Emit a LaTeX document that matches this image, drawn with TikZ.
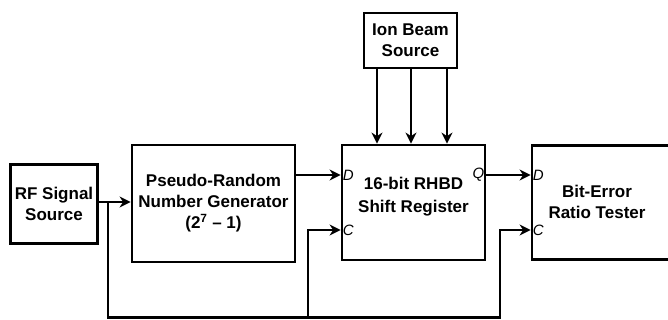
\documentclass[tikz,border=0pt]{standalone}
\usepackage{fontspec}
\setmainfont{Liberation Sans}
\usetikzlibrary{arrows.meta, positioning, calc}
\tikzset{
  font=\bfseries\fontsize{17}{21}\selectfont,
  >={Stealth[length=11pt, width=11pt, inset=3.5pt]},
  %
  blk/.style={draw=black, line width=2.8pt, align=center, inner sep=0pt,
              text=black},
  wire/.style={draw=black, line width=2.6pt},
  sig/.style={wire, ->},
  pin/.style={font=\itshape\mdseries\fontsize{15}{17}\selectfont, inner sep=2pt},
}
\begin{document}
\begin{tikzpicture}[x=1pt, y=1pt]
  \clip (0,0) rectangle (668,320);

  % --- blocks --------------------------------------------------------------
  \node[blk, minimum width=87pt,  minimum height=79pt]  (rf)   at (54,116)    {RF Signal\\Source};
  \node[blk, minimum width=163pt, minimum height=117pt] (prng) at (213.5,116.5) {Pseudo-Random\\Number Generator\\(2$^{\mathbf{7}}$ -- 1)};
  \node[blk, minimum width=143pt, minimum height=115pt] (sr)   at (413.5,117.5) {};
  \node[font=\bfseries\fontsize{17}{23}\selectfont, align=center] (srlbl) at (413.5,123) {16-bit RHBD\\Shift Register};
  \node[blk, minimum width=93pt,  minimum height=55pt]  (ion)  at (410.5,279.5) {Ion Beam\\Source};
  \node[blk, minimum width=160pt, minimum height=114pt] (bert) at (612,117.5)  {};
  \node[align=center] (bertlbl) at (597,118) {Bit-Error\\Ratio Tester};

  % --- pins ----------------------------------------------------------------
  \node[pin, anchor=west] (srd) at ($(sr.west)+(0,27.5)$)  {D};
  \node[pin, anchor=west] (src) at ($(sr.west)+(0,-27.5)$) {C};
  \node[pin, anchor=east] (srq) at ($(sr.east)+(0,27.5)$)  {Q};
  \node[pin, anchor=west] (bd)  at ($(bert.west)+(0,27.5)$)  {D};
  \node[pin, anchor=west] (bc)  at ($(bert.west)+(0,-27.5)$) {C};

  % --- signals -------------------------------------------------------------
  \coordinate (split) at (108,118);
  \draw[sig] (rf.east |- split) -- (prng.west |- split);
  \draw[sig] (prng.east |- srd) -- (sr.west |- srd);
  \draw[sig] (sr.east |- srq) -- (bert.west |- bd);

  \foreach \x in {377,411,447}
    \draw[sig] (\x,0 |- ion.south) -- (\x,0 |- sr.north);

  % --- clock feedback ------------------------------------------------------
  \coordinate (bot) at (108,2.5);
  \draw[sig] (split) -- (bot) -- (500,2.5) -- (500,0 |- bc) -- (bert.west |- bc);
  \draw[sig] (308,2.5) -- (308,0 |- src) -- (sr.west |- src);

\end{tikzpicture}
\end{document}
